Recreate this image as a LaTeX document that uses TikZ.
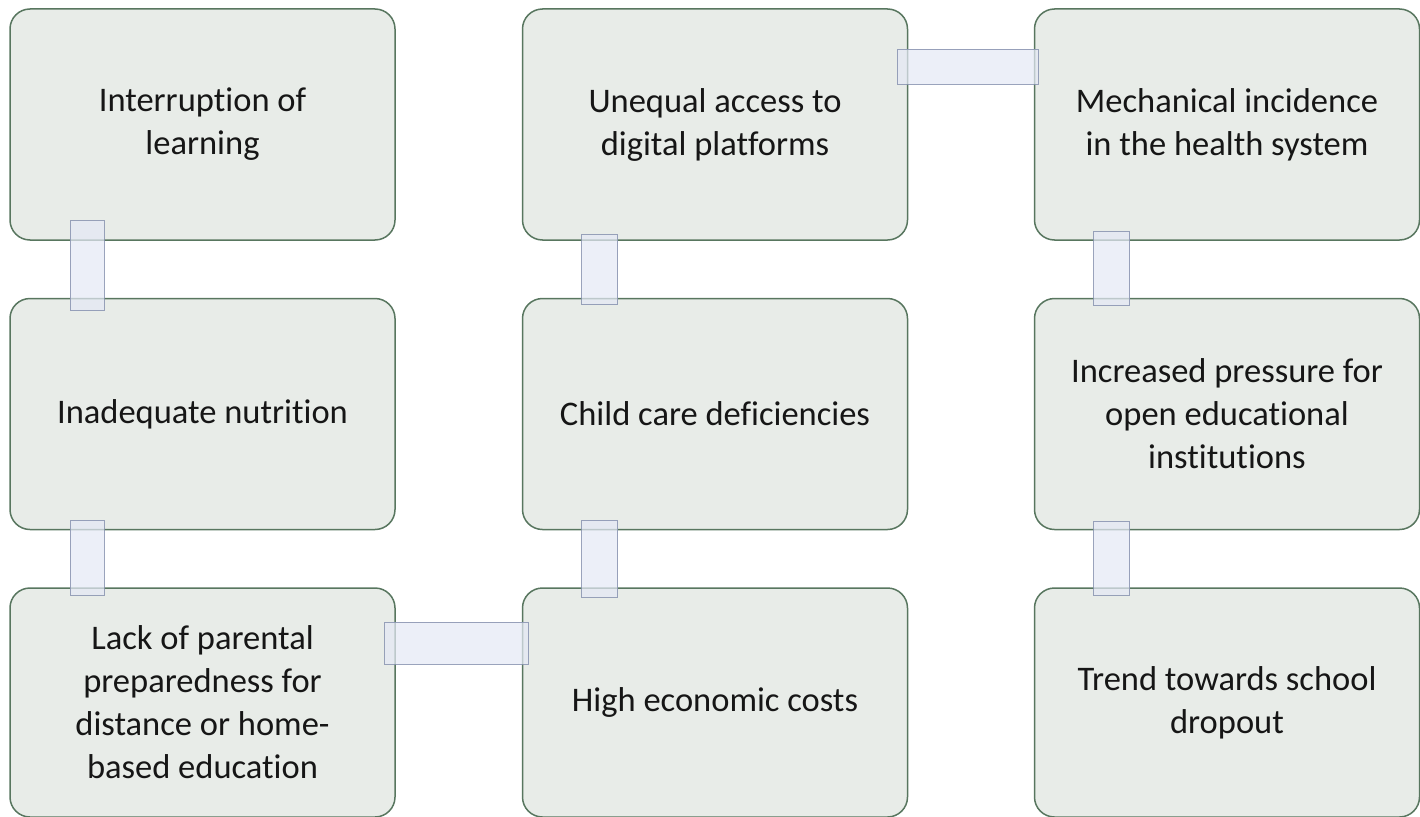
\documentclass[tikz,border=0pt]{standalone}
\usepackage{fontspec}
\setmainfont{Carlito}[Ligatures={NoCommon}]
\usetikzlibrary{calc}
\definecolor{boxfill}{HTML}{E8ECE8}
\definecolor{boxline}{HTML}{58765F}
\definecolor{linkfill}{HTML}{E4E9F5}
\definecolor{linkline}{HTML}{8893B0}
\definecolor{txt}{HTML}{161616}
\tikzset{
  card/.style={draw=boxline, line width=1.5pt, fill=boxfill, rounded corners=20pt,
    minimum width=385pt, minimum height=231pt, inner sep=0pt,
    align=center, text=txt, font=\fontsize{34.5pt}{43pt}\selectfont},
  link/.style={fill=linkfill, fill opacity=0.72, draw=linkline, draw opacity=0.85, line width=0.9pt}
}
\begin{document}
\begin{tikzpicture}[x=1pt,y=-1pt]
\useasboundingbox (0,0) rectangle (1420,816);
\begin{scope}
\clip (0,0) rectangle (1420,816);
% boxes
\node[card] (b1) at (202.5,124.5) {Interruption of\\learning};
\node[card] (b2) at (715,124.5) {Unequal access to\\digital platforms};
\node[card] (b3) at (1227,124.5) {Mechanical incidence\\in the health system};
\node[card] (b4) at (202.5,414) {Inadequate nutrition};
\node[card] (b5) at (715,414) {Child care deficiencies};
\node[card] (b6) at (1227,414) {Increased pressure for\\open educational\\institutions};
\node[card, minimum height=229pt] (b7) at (202.5,702.5) {Lack of parental\\preparedness for\\distance or home-\\based education};
\node[card, minimum height=229pt] (b8) at (715,702.5) {High economic costs};
\node[card, minimum height=229pt] (b9) at (1227,702.5) {Trend towards school\\dropout};
% connectors
\path[link] ($(b1.south west)+(61,-20)$) rectangle ($(b4.north west)+(95,13)$);
\path[link] ($(b4.south west)+(61,-10)$) rectangle ($(b7.north west)+(95,8)$);
\path[link] ($(b7.east)+(-11,-80.5)$) rectangle ($(b8.west)+(7,-38.5)$);
\path[link] ($(b8.north west)+(60,10)$) rectangle ($(b5.south west)+(96,-10)$);
\path[link] ($(b5.north west)+(60,7)$) rectangle ($(b2.south west)+(96,-6)$);
\path[link] ($(b2.east)+(-11,-75.5)$) rectangle ($(b3.west)+(5,-40.5)$);
\path[link] ($(b3.south west)+(60,-9)$) rectangle ($(b6.north west)+(96,8)$);
\path[link] ($(b6.south west)+(60,-9)$) rectangle ($(b9.north west)+(96,8)$);
\end{scope}
\end{tikzpicture}
\end{document}
